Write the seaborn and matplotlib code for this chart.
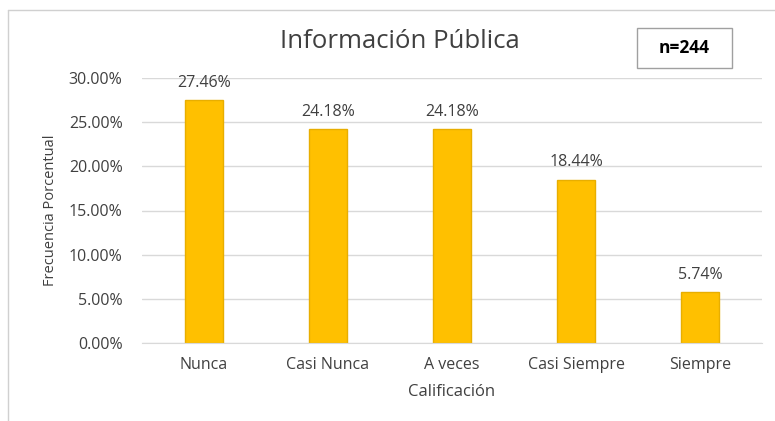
import seaborn as sns
import matplotlib.pyplot as plt
import pandas as pd
from matplotlib.lines import Line2D
from matplotlib.ticker import FuncFormatter

# data
categories = ['Nunca', 'Casi Nunca', 'A veces', 'Casi Siempre', 'Siempre']
percentages = [27.46, 24.18, 24.18, 18.44, 5.74]
y_ticks = [0, 5, 10, 15, 20, 25, 30]

df = pd.DataFrame({'calificacion': categories, 'pct': percentages})

sns.set_style('white')
plt.rcParams['font.family'] = ['Open Sans', 'DejaVu Sans']
text_col = '#404040'

fig = plt.figure(figsize=(7.75, 4.21), dpi=100)
# put the axes where the reference plot area sits
ax = fig.add_axes([142 / 775, (421 - 343) / 421, 620 / 775, 265 / 421])

sns.barplot(data=df, x='calificacion', y='pct', color='#FFC000',
            edgecolor='#E8AE00', linewidth=1, width=0.3, saturation=1, ax=ax)

for i, v in enumerate(percentages):
    ax.annotate(f'{v:.2f}%', (i, v), xytext=(0, 7), textcoords='offset points',
                ha='center', va='bottom', fontsize=11.5, color=text_col)

ax.set_ylim(0, 30)
ax.set_yticks(y_ticks)
ax.yaxis.set_major_formatter(FuncFormatter(lambda v, p: f'{v:.2f}%'))
ax.grid(axis='y', color='#D9D9D9', linewidth=1)
ax.set_axisbelow(True)
for s in ['top', 'right', 'left']:
    ax.spines[s].set_visible(False)
ax.spines['bottom'].set_color('#D9D9D9')
ax.tick_params(axis='both', length=0, labelsize=11.5, labelcolor=text_col)
ax.tick_params(axis='x', pad=10)
ax.tick_params(axis='y', pad=14)
ax.set_xlim(-0.5, 4.5)

ax.set_xlabel('Calificación', fontsize=12, color=text_col, labelpad=8)
ax.set_ylabel('Frecuencia Porcentual', fontsize=10.5, color=text_col, labelpad=8)

fig.text(400 / 775, 1 - 42 / 421, 'Información Pública', ha='center', va='center',
         fontsize=18.5, color=text_col)

fig.text(684 / 775, 1 - 48 / 421, 'n=244', ha='center', va='center',
         fontsize=12.5, fontweight='bold', color='black')
fig.add_artist(plt.Rectangle((637 / 775, 1 - 68 / 421), 95 / 775, 40 / 421,
                             transform=fig.transFigure, fill=False,
                             edgecolor='#A0A0A0', linewidth=1))

# chart frame (left and top edges visible)
fig.add_artist(Line2D([8 / 775, 8 / 775], [0, 1 - 10 / 421], transform=fig.transFigure,
                      color='#D0D0D0', linewidth=1))
fig.add_artist(Line2D([8 / 775, 1], [1 - 10 / 421, 1 - 10 / 421], transform=fig.transFigure,
                      color='#D0D0D0', linewidth=1))

fig.savefig('out.png', dpi=100)
